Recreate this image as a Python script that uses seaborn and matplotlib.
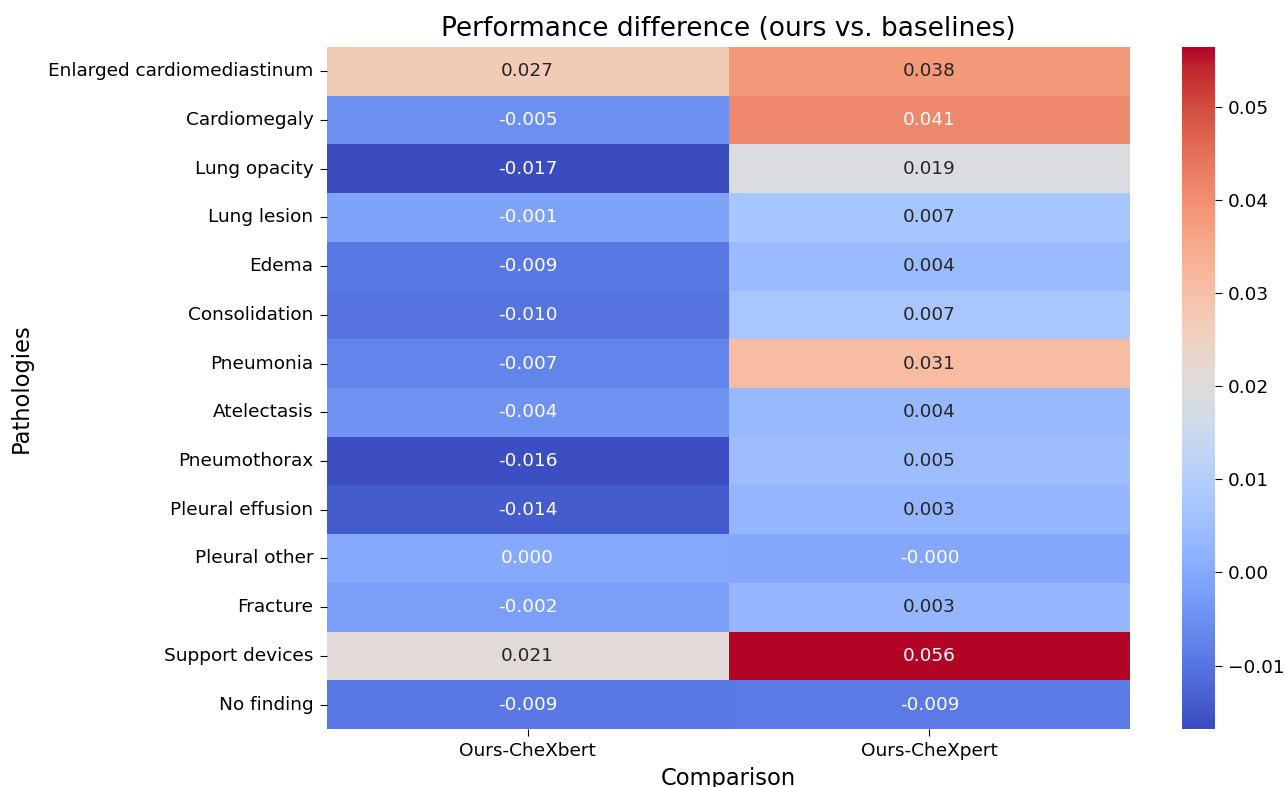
import numpy as np
import pandas as pd
import matplotlib
matplotlib.use('Agg')
import matplotlib.pyplot as plt
import seaborn as sns

pathologies = ['Enlarged cardiomediastinum', 'Cardiomegaly', 'Lung opacity', 'Lung lesion',
               'Edema', 'Consolidation', 'Pneumonia', 'Atelectasis', 'Pneumothorax',
               'Pleural effusion', 'Pleural other', 'Fracture', 'Support devices', 'No finding']
comparisons = ['Ours-CheXbert', 'Ours-CheXpert']

chexbert_diff = [0.0270, -0.0052, -0.0168, -0.0012, -0.0091, -0.0101, -0.0072, -0.0043,
                 -0.0163, -0.0141, 0.0002, -0.0021, 0.0211, -0.0091]
chexpert_diff = [0.0381, 0.0412, 0.0192, 0.0072, 0.0041, 0.0073, 0.0311, 0.0038,
                 0.0049, 0.0032, -0.0003, 0.0034, 0.0564, -0.0090]

df = pd.DataFrame({comparisons[0]: chexbert_diff, comparisons[1]: chexpert_diff},
                  index=pathologies)

fig = plt.figure(figsize=(12.86, 7.87), dpi=100)
ax = fig.add_axes([0.254, 0.0737, 0.625, 0.8666])
cax = fig.add_axes([0.919, 0.0737, 0.0257, 0.8666])

sns.heatmap(df, annot=True, fmt='.3f', cmap='coolwarm', ax=ax, cbar_ax=cax,
            annot_kws={'fontsize': 13.3})

ax.set_title('Performance difference (ours vs. baselines)', fontsize=19, pad=8)
ax.set_xlabel('Comparison', fontsize=16.3, labelpad=5)
ax.set_ylabel('Pathologies', fontsize=16.3, labelpad=11)
ax.tick_params(axis='both', labelsize=13.3, length=4.7, pad=4.7)
plt.setp(ax.get_yticklabels(), rotation=0)
cax.tick_params(labelsize=13.3, length=4.7, pad=4.7)

fig.savefig('out.png', dpi=100)
